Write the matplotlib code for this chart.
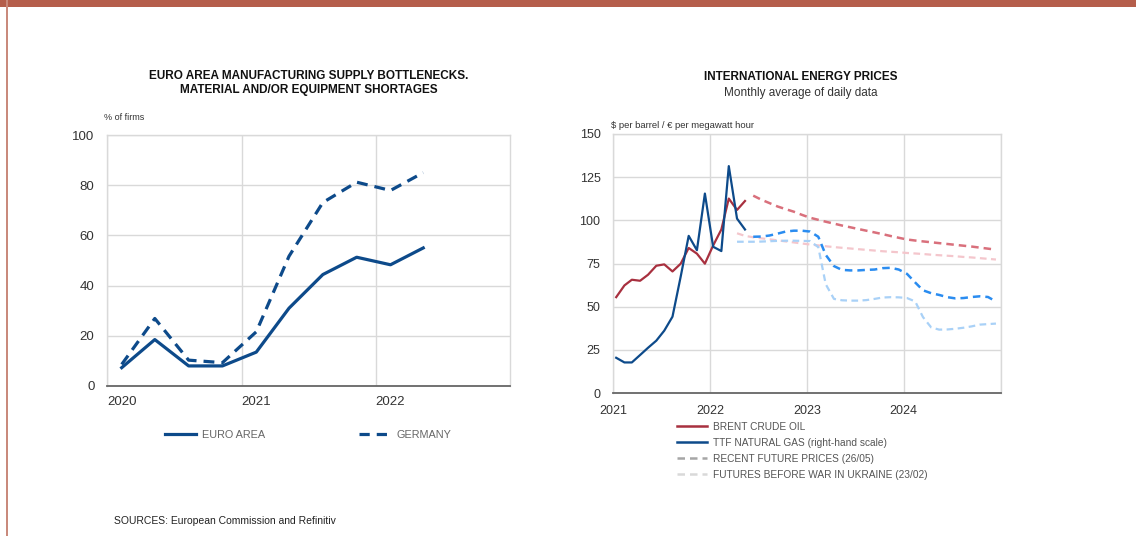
import matplotlib
matplotlib.use("Agg")
import matplotlib.pyplot as plt
import matplotlib.dates as mdates
from matplotlib.patches import Rectangle
from matplotlib.lines import Line2D
import pandas as pd

plt.rcParams["font.family"] = ["Liberation Sans", "DejaVu Sans"]

# --- left chart: supply bottlenecks (quarterly survey, % of firms)
survey_dates = pd.to_datetime([
    "2020-02-10", "2020-05-10", "2020-08-10", "2020-11-10",
    "2021-02-10", "2021-05-10", "2021-08-10", "2021-11-10",
    "2022-02-10", "2022-05-10",
])
euro_area = [7.3, 18.5, 8.0, 8.0, 13.5, 31.0, 44.4, 51.3, 48.3, 55.0]
germany = [8.6, 26.9, 10.3, 9.3, 21.6, 51.7, 73.1, 81.2, 77.9, 85.0]

# --- right chart: energy prices (monthly averages)
spot_months = pd.date_range("2021-01-01", "2022-05-01", freq="MS") + pd.Timedelta(days=12)
brent = [55.5, 62.3, 65.6, 65.0, 68.5, 73.7, 74.5, 70.4, 74.9, 84.0, 80.7, 74.9,
         85.4, 94.7, 112.6, 106.0, 111.2]
ttf = [20.4, 17.7, 17.7, 22.0, 26.2, 30.3, 36.1, 44.2, 67.5, 91.0, 82.7, 115.5,
       84.7, 82.2, 131.4, 101.0, 94.7]

recent_months = pd.date_range("2022-06-01", "2024-12-01", freq="MS") + pd.Timedelta(days=12)
brent_recent = [114.3, 112.0, 110.0, 108.0, 106.5, 105.0, 103.2,
                101.5, 100.3, 99.2, 98.1, 97.0, 96.0, 95.0, 94.0, 93.0, 92.0, 90.9, 89.9,
                88.9, 88.3, 87.8, 87.3, 86.8, 86.3, 85.8, 85.3, 84.8, 84.2, 83.6, 83.0]
ttf_recent = [90.5, 90.6, 91.2, 92.3, 93.5, 94.0, 94.0,
              93.5, 90.5, 80.0, 73.5, 71.3, 71.0, 71.0, 71.3, 71.5, 72.3, 72.5, 71.5,
              69.0, 64.0, 59.5, 57.8, 56.8, 55.5, 54.8, 55.0, 55.6, 56.0, 55.6, 53.0]

prewar_months = pd.date_range("2022-04-01", "2024-12-01", freq="MS") + pd.Timedelta(days=12)
brent_prewar = [92.5, 91.0, 90.2, 89.6, 89.0, 88.4, 87.8, 87.2, 86.6,
                86.0, 85.5, 85.0, 84.5, 84.1, 83.7, 83.3, 82.9, 82.5, 82.1, 81.8, 81.5,
                81.1, 80.8, 80.5, 80.1, 79.8, 79.5, 79.2, 78.8, 78.5, 78.1, 77.7, 77.3]
ttf_prewar = [87.6, 87.6, 87.6, 87.7, 87.9, 88.1, 88.2, 88.2, 88.1,
              88.0, 84.5, 63.0, 54.5, 53.7, 53.5, 53.5, 53.8, 54.5, 55.3, 55.5, 55.4,
              55.0, 53.0, 44.0, 38.0, 36.7, 36.8, 37.2, 37.8, 38.6, 39.6, 39.9, 40.2]

NAVY = "#0d4a8a"
RED = "#a8303f"
GRID = "#d9d9d9"
TXT = "#333333"

fig = plt.figure(figsize=(11.36, 5.36), dpi=100)
W, H = 1136, 536


def style_axes(ax):
    for side in ["top", "right", "left"]:
        ax.spines[side].set_color(GRID)
        ax.spines[side].set_linewidth(1)
    ax.spines["bottom"].set_color("#666666")
    ax.spines["bottom"].set_linewidth(1.3)
    ax.grid(True, color=GRID, linewidth=1)
    ax.set_axisbelow(True)
    ax.tick_params(length=0, colors=TXT, labelsize=9.5)
    ax.tick_params(axis="y", pad=9)


# left panel
ax1 = fig.add_axes([107 / W, 1 - 386 / H, 403 / W, 251 / H])
style_axes(ax1)
ax1.plot(survey_dates, euro_area, color=NAVY, lw=2.3, solid_joinstyle="round")
ax1.plot(survey_dates, germany, color=NAVY, lw=2.3, linestyle=(0, (3.4, 2.2)))
ax1.set_xlim(pd.Timestamp("2020-01-01"), pd.Timestamp("2023-01-01"))
ax1.set_ylim(0, 100)
ax1.set_yticks(range(0, 101, 20))
years1 = pd.to_datetime(["2020-01-01", "2021-01-01", "2022-01-01"])
ax1.set_xticks(years1)
ax1.set_xticklabels(["2020", "2021", "2022"], ha="left")
ax1.tick_params(axis="x", pad=7)

fig.text(309 / W, 1 - 83 / H, "EURO AREA MANUFACTURING SUPPLY BOTTLENECKS.\nMATERIAL AND/OR EQUIPMENT SHORTAGES",
         ha="center", va="center", fontsize=8.5, fontweight="bold", color="#111111", linespacing=1.25)
fig.text(104 / W, 1 - 118 / H, "% of firms", ha="left", va="center", fontsize=6.5, color=TXT)

h1 = [Line2D([], [], color=NAVY, lw=2.3), Line2D([], [], color=NAVY, lw=2.3, linestyle=(0, (3.2, 2.2)))]
fig.legend(h1, ["EURO AREA", "GERMANY"], loc="center left", bbox_to_anchor=(165 / W, 1 - 435 / H),
           ncol=2, frameon=False, fontsize=7.8, handlelength=2.9, handletextpad=0.55,
           columnspacing=8.6, borderpad=0, borderaxespad=0, labelcolor="#666666")

# right panel
ax2 = fig.add_axes([613 / W, 1 - 393 / H, 388 / W, 259 / H])
style_axes(ax2)
ax2.tick_params(labelsize=9)
dash = (0, (3.0, 2.0))
ax2.plot(prewar_months, brent_prewar, color="#f4c6cc", lw=1.6, linestyle=dash)
ax2.plot(prewar_months, ttf_prewar, color="#a9d1f7", lw=1.6, linestyle=dash)
ax2.plot(recent_months, brent_recent, color="#d9707c", lw=1.8, linestyle=dash)
ax2.plot(recent_months, ttf_recent, color="#2a8cf0", lw=1.8, linestyle=dash)
ax2.plot(spot_months, brent, color=RED, lw=1.6)
ax2.plot(spot_months, ttf, color=NAVY, lw=1.6)
ax2.set_xlim(pd.Timestamp("2021-01-01"), pd.Timestamp("2025-01-01"))
ax2.set_ylim(0, 150)
ax2.set_yticks(range(0, 151, 25))
ax2.xaxis.set_major_locator(mdates.YearLocator())
ax2.xaxis.set_major_formatter(mdates.DateFormatter("%Y"))
ax2.tick_params(axis="x", pad=9)
for lab in ax2.get_xticklabels():
    if lab.get_text() == "2025":
        lab.set_visible(False)

fig.text(801 / W, 1 - 77 / H, "INTERNATIONAL ENERGY PRICES", ha="center", va="center",
         fontsize=8.5, fontweight="bold", color="#111111")
fig.text(801 / W, 1 - 93 / H, "Monthly average of daily data", ha="center", va="center",
         fontsize=8.5, color=TXT)
fig.text(611 / W, 1 - 126 / H, "$ per barrel / € per megawatt hour", ha="left", va="center",
         fontsize=6.8, color=TXT)

h2 = [Line2D([], [], color=RED, lw=1.8),
      Line2D([], [], color=NAVY, lw=1.8),
      Line2D([], [], color="#a6a6a6", lw=1.8, linestyle=dash),
      Line2D([], [], color="#d9d9d9", lw=1.8, linestyle=dash)]
fig.legend(h2, ["BRENT CRUDE OIL", "TTF NATURAL GAS (right-hand scale)",
                "RECENT FUTURE PRICES (26/05)", "FUTURES BEFORE WAR IN UKRAINE (23/02)"],
           loc="upper left", bbox_to_anchor=(677 / W, 1 - 422 / H), frameon=False,
           fontsize=7.3, handlelength=3.0, handletextpad=0.55, labelspacing=0.58,
           borderpad=0, borderaxespad=0, labelcolor="#555555")

fig.text(114 / W, 1 - 521 / H, "SOURCES: European Commission and Refinitiv", ha="left", va="center",
         fontsize=7.5, color="#222222")

# page frame: top band and left rule
fig.add_artist(Rectangle((0, 1 - 7 / H), 1, 7 / H, transform=fig.transFigure,
                         facecolor="#b55e4b", edgecolor="none"))
fig.add_artist(Rectangle((6 / W, 0), 2 / W, 1, transform=fig.transFigure,
                         facecolor="#c98a7c", edgecolor="none"))

fig.savefig("out.png", dpi=100)
